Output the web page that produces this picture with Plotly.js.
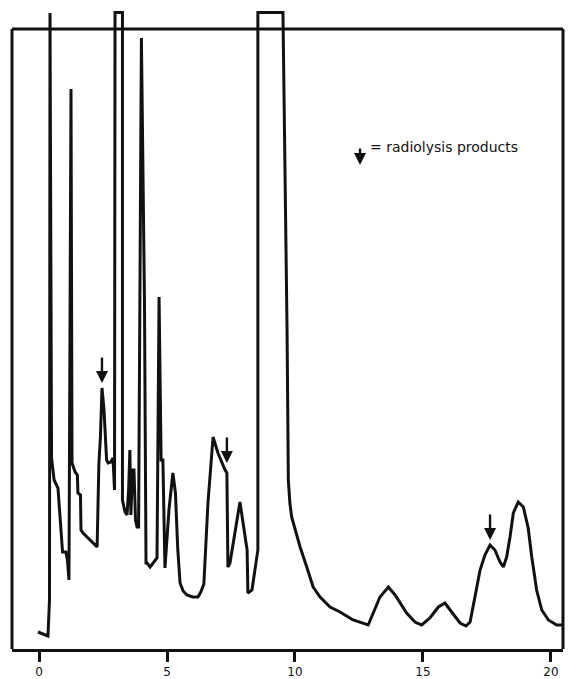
<!DOCTYPE html>
<html>
<head>
<meta charset="utf-8">
<script src="https://cdn.plot.ly/plotly-3.0.1.min.js"></script>
<style>html,body{margin:0;padding:0;background:#fff;}#chart{width:568px;height:679px;}</style>
</head>
<body>
<div id="chart"></div>
<script>
// retention time (min)
var time = [-0.04,0.35,0.41,0.43,0.49,0.59,0.74,0.86,0.92,1.05,1.11,1.17,1.25,1.29,1.41,1.50,1.52,1.62,1.64,1.72,2.27,2.34,2.40,2.46,2.54,2.64,2.70,2.81,2.89,2.95,2.97,3.26,3.26,3.36,3.44,3.50,3.55,3.59,3.65,3.71,3.77,3.83,3.89,4.00,4.12,4.18,4.22,4.34,4.49,4.61,4.69,4.77,4.84,4.92,5.08,5.23,5.33,5.42,5.51,5.63,5.78,6.00,6.21,6.32,6.44,6.60,6.80,6.99,7.27,7.34,7.38,7.46,7.85,8.13,8.16,8.32,8.55,8.55,9.53,9.61,9.69,9.74,9.80,9.87,10.00,10.20,10.46,10.71,10.98,11.37,11.76,12.27,12.86,13.06,13.32,13.65,13.91,14.36,14.69,14.95,15.27,15.60,15.86,16.12,16.45,16.68,16.84,17.03,17.23,17.42,17.62,17.81,18.01,18.14,18.27,18.40,18.53,18.72,18.92,19.11,19.25,19.44,19.64,19.90,20.22,20.61];
// detector response (arbitrary units)
var response = [17,13,49,636,191,169,161,119,97,97,89,69,560,186,177,174,156,154,119,116,102,186,212,261,239,189,186,187,191,159,636.5,636.5,149,137,134,159,199,134,179,179,129,122,122,611,349,86,86,82,87,91,352,189,189,81,140,176,156,100,66,58,54,52,52,57,65,146,212,196,179,176,82,86,147,99,56,59,99,636.5,636.5,499,319,169,146,132,119,102,82,62,52,42,37,29,24,36,52,62,54,36,27,24,31,42,46,37,26,23,27,52,79,94,104,99,87,82,92,112,136,147,142,121,92,59,39,29,24,24];
// radiolysis product markers (arrow tips)
var markTime = [2.46,7.34,17.62];
var markResp = [266,186,109];
var tickVals = [0,5,10,15,20];
var tickText = ["0","5","10","15","20"];
var legendText = "= radiolysis products";

var ink = "#111";
var annotations = [];
for (var i = 0; i < markTime.length; i++) {
  annotations.push({x: markTime[i], y: markResp[i], xref: "x", yref: "y",
    showarrow: true, ax: 0, ay: -27, arrowhead: 2, arrowsize: 1, arrowwidth: 2.4,
    arrowcolor: ink, text: ""});
}
annotations.push({x: 12.54, y: 484, xref: "x", yref: "y", showarrow: true, ax: 0, ay: -18,
  arrowhead: 2, arrowsize: 1, arrowwidth: 2.4, arrowcolor: ink, text: ""});
annotations.push({x: 12.85, y: 502, xref: "x", yref: "y", showarrow: false, xanchor: "left",
  yanchor: "middle", text: legendText, font: {family: "DejaVu Sans", size: 14, color: ink}});

var trace = {x: time, y: response, type: "scatter", mode: "lines",
  line: {color: ink, width: 3, shape: "linear"}, hoverinfo: "skip"};

var layout = {
  width: 568, height: 679,
  margin: {l: 12, r: 5, t: 10, b: 30},
  paper_bgcolor: "#fff", plot_bgcolor: "#fff",
  showlegend: false,
  xaxis: {range: [-1.055, 20.47], tickvals: tickVals, ticktext: tickText,
    ticks: "outside", ticklen: 10, tickwidth: 3, tickcolor: ink,
    showline: true, linewidth: 3, linecolor: ink, showgrid: false, zeroline: false,
    tickfont: {family: "DejaVu Sans", size: 12, color: ink}, fixedrange: true},
  yaxis: {range: [0, 639], visible: false, fixedrange: true, showgrid: false, zeroline: false},
  shapes: [
    {type: "line", xref: "paper", yref: "y", x0: 0, x1: 0, y0: 0, y1: 620, line: {color: ink, width: 3}},
    {type: "line", xref: "paper", yref: "y", x0: 0, x1: 1, y0: 620, y1: 620, line: {color: ink, width: 3}},
    {type: "line", xref: "paper", yref: "y", x0: 1, x1: 1, y0: 0, y1: 620, line: {color: ink, width: 3}}
  ],
  annotations: annotations
};
Plotly.newPlot("chart", [trace], layout, {displayModeBar: false, staticPlot: true});
</script>
</body>
</html>
